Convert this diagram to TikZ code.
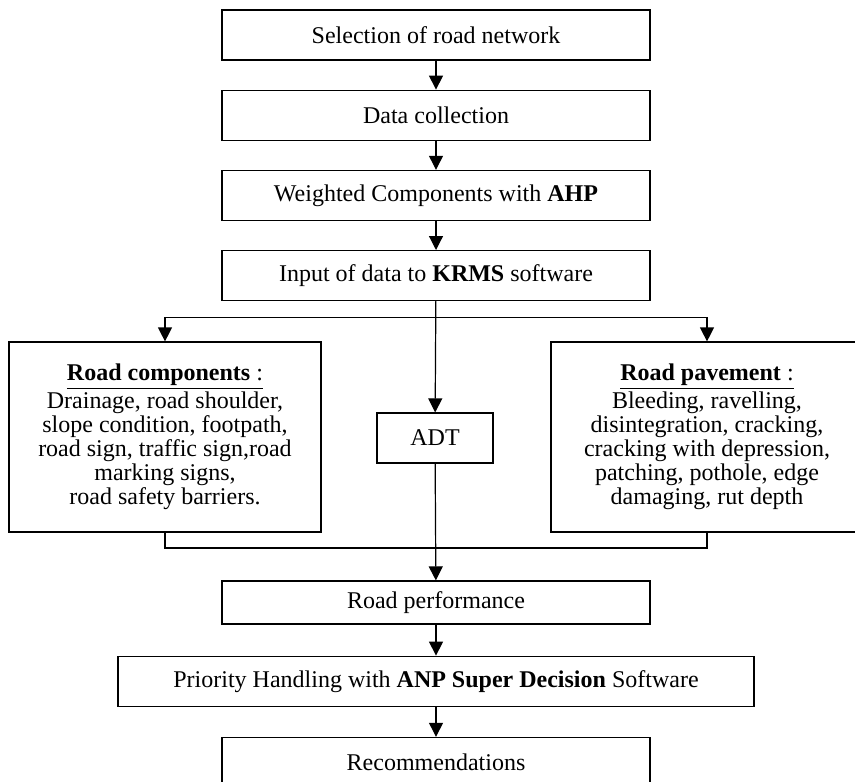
\documentclass[tikz,border=0pt]{standalone}
\usepackage{fontspec}
\setmainfont{Liberation Serif}
\usetikzlibrary{arrows.meta,positioning}

\tikzset{
  stepbox/.style={draw, line width=0.6pt, minimum width=214pt, minimum height=25pt,
    align=center, inner sep=2pt, font=\fontsize{12}{12}\selectfont},
  listbox/.style={stepbox, minimum width=156pt, minimum height=95pt},
  flow/.style={-{Triangle[length=7pt,width=7pt]}, line width=0.6pt},
  joinline/.style={line width=0.6pt}
}

\begin{document}
\begin{tikzpicture}[x=0.5pt, y=-0.5pt, node distance=14.5pt]
  \useasboundingbox (0,0) rectangle (855,781);
  % main column
  \node[stepbox] (select) at (436,35) {Selection of road network};
  \node[stepbox, below=of select] (collect) {Data collection};
  \node[stepbox, below=of collect] (ahp) {Weighted Components with \textbf{AHP}};
  \node[stepbox, below=of ahp] (krms) {Input of data to \textbf{KRMS} software};
  % the three inputs
  \node[listbox] (comp) at (165,437) {\underline{\textbf{Road components} :}\\
    Drainage, road shoulder,\\ slope condition, footpath,\\ road sign, traffic sign,road\\
    marking signs,\\ road safety barriers.};
  \node[listbox] (pave) at (707,437) {\underline{\textbf{Road pavement} :}\\
    Bleeding, ravelling,\\ disintegration, cracking,\\ cracking with depression,\\
    patching, pothole, edge\\ damaging, rut depth};
  \node[stepbox, minimum width=58pt] (adt) at (435,438) {ADT};
  % results
  \node[stepbox, minimum height=21.5pt] (perf) at (436,602.5) {Road performance};
  \node[stepbox, minimum width=318pt, below=15.5pt of perf] (prio)
    {Priority Handling with \textbf{ANP Super Decision} Software};
  \node[stepbox, below=15pt of prio] (rec) {Recommendations};
  \coordinate[below=8pt of krms.south] (split);
  \coordinate (merge) at (436,548);
  \draw[flow] (select) -- (collect);
  \draw[flow] (collect) -- (ahp);
  \draw[flow] (ahp) -- (krms);
  \draw[flow] (krms) -- (adt);
  \draw[flow] (split) -| (comp);
  \draw[flow] (split) -| (pave);
  \draw[joinline] (comp.south) |- (merge) -| (pave.south);
  \draw[flow] (adt) -- (perf);
  \draw[flow] (perf) -- (prio);
  \draw[flow] (prio) -- (rec);
\end{tikzpicture}
\end{document}
